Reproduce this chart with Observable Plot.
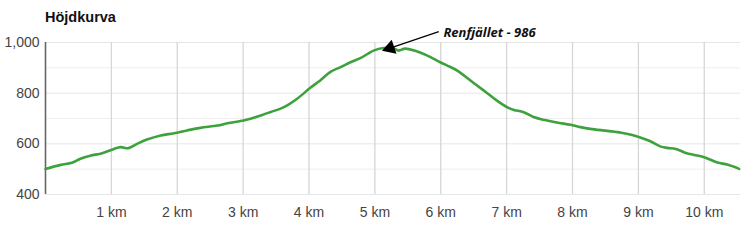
<!DOCTYPE html>
<html>
<head>
<meta charset="utf-8">
<script src="https://cdn.jsdelivr.net/npm/d3@7"></script>
<script src="https://cdn.jsdelivr.net/npm/@observablehq/plot@0.6"></script>
<style>
  body { margin: 0; background: #fff; }
  #wrap { position: relative; width: 748px; height: 240px; }
  #title { position: absolute; left: 45px; top: 9px; font: bold 14.5px "Liberation Sans", Arial, sans-serif; color: #111; }
  #chart svg { display: block; overflow: visible; }
</style>
</head>
<body>
<div id="wrap">
<div id="chart"></div>
<div id="title">Höjdkurva</div>
</div>
<script>
const distanceKm = [0, 0.23, 0.40, 0.53, 0.68, 0.86, 1.04, 1.14, 1.26, 1.39, 1.54, 1.75, 1.95, 2.15, 2.35, 2.61, 2.76, 3.01, 3.11, 3.29, 3.41, 3.62, 3.82, 4.02, 4.17, 4.32, 4.48, 4.63, 4.78, 4.98, 5.13, 5.29, 5.36, 5.46, 5.61, 5.79, 5.99, 6.10, 6.25, 6.45, 6.65, 6.85, 7.01, 7.11, 7.26, 7.41, 7.56, 7.76, 7.97, 8.12, 8.27, 8.53, 8.74, 8.89, 9.04, 9.19, 9.34, 9.44, 9.57, 9.72, 9.87, 10.00, 10.20, 10.35, 10.53];
const elevation = [501, 517, 525, 541, 553, 563, 580, 587, 583, 600, 617, 633, 642, 653, 663, 672, 681, 692, 699, 714, 725, 745, 778, 821, 850, 883, 903, 922, 938, 968, 978, 976, 968, 976, 967, 949, 922, 909, 889, 850, 811, 771, 744, 734, 725, 706, 695, 684, 675, 666, 659, 651, 644, 636, 624, 609, 589, 584, 580, 564, 555, 547, 526, 518, 501];
const xTicks = [1, 2, 3, 4, 5, 6, 7, 8, 9, 10];
const yTicks = [400, 600, 800, 1000];
const yMinorTicks = [500, 700, 900];
const peakLabel = ["Renfjället - 986"];
const peakLabelPos = {x: 6.04, y: 1039};
const arrowFrom = {x: 5.97, y: 1043};
const arrowHead = {x: 5.23, y: 978};

const profile = distanceKm.map((d, i) => ({d, e: elevation[i]}));

const chart = Plot.plot({
  width: 748,
  height: 240,
  marginTop: 42,
  marginLeft: 45,
  marginRight: 8,
  marginBottom: 46,
  style: {fontFamily: "'Liberation Sans', Arial, sans-serif", fontSize: "14px", color: "#444", background: "#fff", overflow: "visible"},
  x: {domain: [0, 10.55], axis: null},
  y: {domain: [400, 1000], axis: null},
  marks: [
    Plot.ruleY(yMinorTicks, {stroke: "#eeeeee", strokeWidth: 1, x1: 0, x2: 10.55}),
    Plot.ruleY(yTicks, {stroke: "#e6e6e6", strokeWidth: 1, x1: 0, x2: 10.55}),
    Plot.ruleX(xTicks, {stroke: "#d6d6d6", strokeWidth: 1.3, y1: 400, y2: 1000}),
    Plot.axisY(yTicks, {label: null, tickSize: 0, tickPadding: 6, tickFormat: d3.format(","), fill: "#444", fontSize: 14}),
    Plot.axisX(xTicks, {label: null, tickSize: 0, tickPadding: 13, tickFormat: d => d + " km", fill: "#444", fontSize: 14}),
    Plot.ruleX([0], {stroke: "#666", strokeWidth: 1.6, y1: 400, y2: 1000}),
    Plot.line(profile, {x: "d", y: "e", stroke: "#3da23d", strokeWidth: 2.6, curve: "catmull-rom"}),
    Plot.link([0], {x1: () => arrowFrom.x, y1: () => arrowFrom.y, x2: () => arrowHead.x, y2: () => arrowHead.y, stroke: "#000", strokeWidth: 1.2, clip: false}),
    Plot.dot([0], {x: () => arrowHead.x, y: () => arrowHead.y, symbol: "triangle", r: 5.5, fill: "#000", stroke: "none", rotate: 251, clip: false}),
    Plot.text(peakLabel, {x: () => peakLabelPos.x, y: () => peakLabelPos.y, text: d => d, textAnchor: "start", fontWeight: "bold", fontStyle: "italic", fontSize: 13, fill: "#111", fontFamily: "'Open Sans', sans-serif", clip: false})
  ]
});
document.getElementById("chart").appendChild(chart);
</script>
</body>
</html>
